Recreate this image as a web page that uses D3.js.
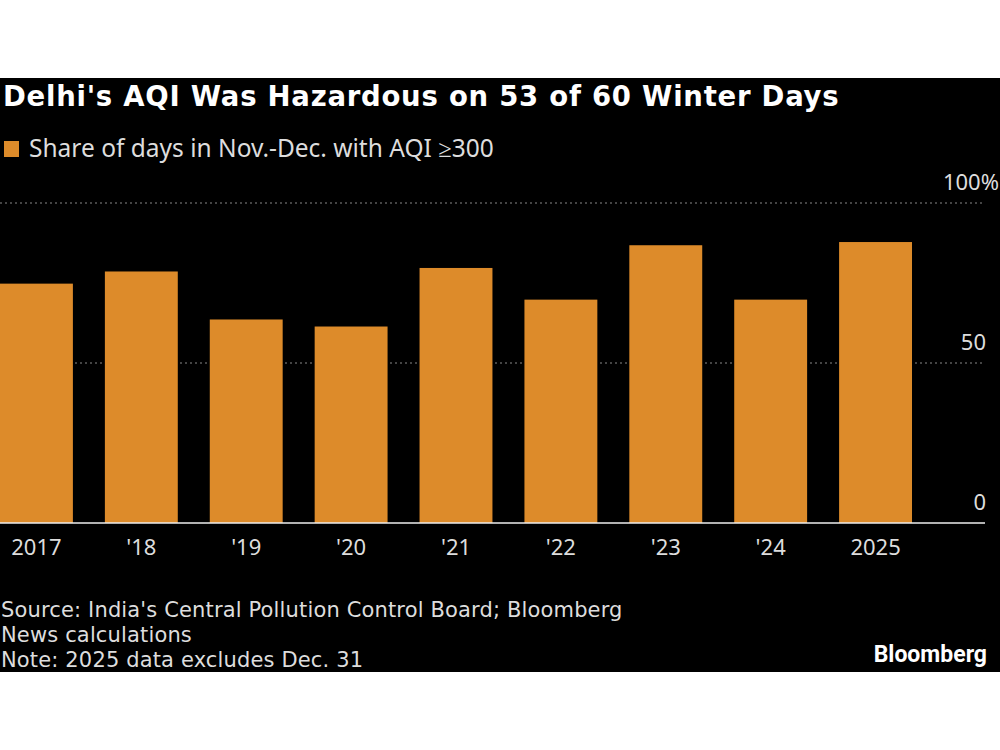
<!DOCTYPE html>
<html>
<head>
<meta charset="utf-8">
<script src="https://cdn.jsdelivr.net/npm/d3@7"></script>
<style>
  body { margin: 0; background: #fff; }
  svg { display: block; }
</style>
</head>
<body>
<div id="chart"></div>
<script>
// Data
var years = ["2017", "'18", "'19", "'20", "'21", "'22", "'23", "'24", "2025"];
var shares = [74.8, 78.6, 63.6, 61.4, 79.7, 69.8, 86.8, 69.8, 87.8];
var yTicks = [0, 50, 100];
var yTickLabels = ["0", "50", "100%"];

var svgWidth = 1000;
var svgHeight = 750;

var svg = d3.select("#chart")
  .append("svg")
  .attr("width", svgWidth)
  .attr("height", svgHeight);

// Black panel
svg.append("rect")
  .attr("x", 0)
  .attr("y", 78)
  .attr("width", svgWidth)
  .attr("height", 594)
  .attr("fill", "#000");

// Title and legend
svg.append("text")
  .attr("x", 3)
  .attr("y", 106)
  .attr("fill", "#fff")
  .style("font-family", "DejaVu Sans")
  .style("font-weight", "bold")
  .style("font-size", "27.5px")
  .style("letter-spacing", "0.75px")
  .text("Delhi's AQI Was Hazardous on 53 of 60 Winter Days");

svg.append("rect")
  .attr("x", 4)
  .attr("y", 141)
  .attr("width", 15)
  .attr("height", 16)
  .attr("fill", "#dd8b2a");

svg.append("text")
  .attr("x", 29)
  .attr("y", 157)
  .attr("fill", "#ddd")
  .style("font-family", "Noto Sans")
  .style("font-size", "24.5px")
  .text("Share of days in Nov.-Dec. with AQI \u2265300");

// Scales
var x = d3.scaleBand()
  .domain(years)
  .range([-16, 928])
  .paddingInner(0.305)
  .paddingOuter(0.1525);

var y = d3.scaleLinear()
  .domain([0, 100])
  .range([523, 203]);

// Gridlines
svg.append("g")
  .selectAll("line")
  .data(yTicks.filter(d => d > 0))
  .enter()
  .append("line")
  .attr("x1", 0)
  .attr("x2", 984)
  .attr("y1", d => y(d))
  .attr("y2", d => y(d))
  .attr("stroke", "#888")
  .attr("stroke-width", 1)
  .attr("stroke-dasharray", "2,3");

// Bars
svg.append("g")
  .selectAll("rect")
  .data(years)
  .enter()
  .append("rect")
  .attr("x", d => x(d))
  .attr("width", x.bandwidth())
  .attr("y", (d, i) => y(shares[i]))
  .attr("height", (d, i) => y(0) - y(shares[i]))
  .attr("fill", "#dd8b2a");

// Baseline
svg.append("line")
  .attr("x1", 0)
  .attr("x2", 985)
  .attr("y1", y(0))
  .attr("y2", y(0))
  .attr("stroke", "#eee")
  .attr("stroke-width", 1.5);

// X axis labels
var bottomAxis = d3.axisBottom(x).tickSize(0).tickPadding(0);
var xAxis = svg.append("g")
  .attr("transform", `translate(0, ${y(0)})`)
  .call(bottomAxis);
xAxis.select(".domain").remove();
xAxis.selectAll("text")
  .attr("y", 32)
  .attr("dy", null)
  .attr("fill", "#ddd")
  .style("font-family", "Noto Sans")
  .style("font-size", "22px");

// Y axis labels on the right ("%" hangs past the numbers)
var rightAxis = d3.axisRight(y).tickValues(yTicks).tickSize(0)
  .tickFormat((d, i) => yTickLabels[i]);
var yAxis = svg.append("g")
  .attr("transform", "translate(986, 0)")
  .call(rightAxis);
yAxis.select(".domain").remove();
yAxis.selectAll("text")
  .attr("x", d => d === 100 ? 13 : 0)
  .attr("dy", "-0.62em")
  .attr("text-anchor", "end")
  .attr("fill", "#ddd")
  .style("font-family", "Noto Sans")
  .style("font-size", "22px");

// Footer
var notes = [
  "Source: India's Central Pollution Control Board; Bloomberg",
  "News calculations",
  "Note: 2025 data excludes Dec. 31"
];
svg.append("g")
  .selectAll("text")
  .data(notes)
  .enter()
  .append("text")
  .attr("x", 1)
  .attr("y", (d, i) => 617 + i * 25)
  .attr("fill", "#ddd")
  .style("font-family", "DejaVu Sans")
  .style("font-size", "21px")
  .style("letter-spacing", "0.15px")
  .text(d => d);

svg.append("text")
  .attr("x", 987)
  .attr("y", 662)
  .attr("text-anchor", "end")
  .attr("fill", "#fff")
  .style("font-family", "Roboto")
  .style("font-weight", "bold")
  .style("font-size", "23px")
  .text("Bloomberg");
</script>
</body>
</html>
